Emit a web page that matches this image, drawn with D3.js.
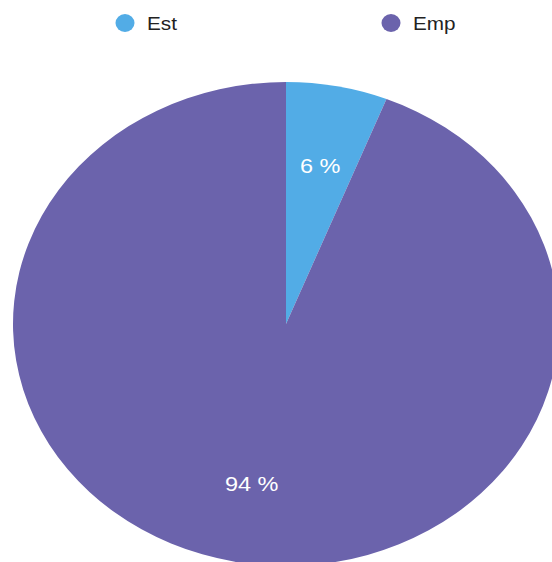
<!DOCTYPE html>
<html>
<head>
<meta charset="utf-8">
<script src="https://cdn.jsdelivr.net/npm/d3@7/dist/d3.min.js"></script>
<style>
  html, body { margin: 0; padding: 0; background: #fff; overflow: hidden; }
  svg { display: block; }
</style>
</head>
<body>
<svg id="chart" width="552" height="562"></svg>
<script>
// Share of Est vs Emp
const categories = ["Est", "Emp"];
const values = [6, 94];
const colors = ["#52ACE6", "#6B63AC"];

const width = 552, height = 562;
const cx = 286, cy = 324;
const rx = 273, ry = 242;   // pie is stretched into an ellipse
const R = 100;              // base radius before scaling
const textStretch = 1.12;   // text is drawn slightly wide as well

const svg = d3.select("#chart");

const color = d3.scaleOrdinal().domain(categories).range(colors);

const data = categories.map((c, i) => ({ name: c, value: values[i] }));

const pie = d3.pie().sort(null).value(d => d.value);
const arcs = pie(data);

const arc = d3.arc().innerRadius(0).outerRadius(R);
const labelArc = d3.arc().innerRadius(R * 0.67).outerRadius(R * 0.67);

const g = svg.append("g")
  .attr("transform", `translate(${cx},${cy}) scale(${rx / R},${ry / R})`);

g.selectAll("path.slice")
  .data(arcs)
  .join("path")
  .attr("class", "slice")
  .attr("d", arc)
  .attr("fill", d => color(d.data.name));

// Percentage labels
const total = d3.sum(values);
svg.append("g")
  .selectAll("text")
  .data(arcs)
  .join("text")
  .attr("transform", d => {
    const [x, y] = labelArc.centroid(d);
    return `translate(${cx + x * rx / R},${cy + y * ry / R + 1}) scale(${textStretch},1)`;
  })
  .attr("text-anchor", "middle")
  .attr("dominant-baseline", "central")
  .attr("font-family", "Liberation Sans, Arial, sans-serif")
  .attr("font-size", 21)
  .attr("fill", "#ffffff")
  .text(d => `${Math.round(d.data.value / total * 100)} %`);

// Legend
const legendX = [125, 391];
const legend = svg.append("g")
  .selectAll("g")
  .data(categories)
  .join("g")
  .attr("transform", (d, i) => `translate(${legendX[i]},23)`);

legend.append("ellipse")
  .attr("rx", 9.5)
  .attr("ry", 9)
  .attr("fill", d => color(d));

legend.append("text")
  .attr("transform", `translate(22,0) scale(${textStretch},1)`)
  .attr("dominant-baseline", "central")
  .attr("font-family", "Liberation Sans, Arial, sans-serif")
  .attr("font-size", 18.5)
  .attr("fill", "#222")
  .text(d => d);
</script>
</body>
</html>
